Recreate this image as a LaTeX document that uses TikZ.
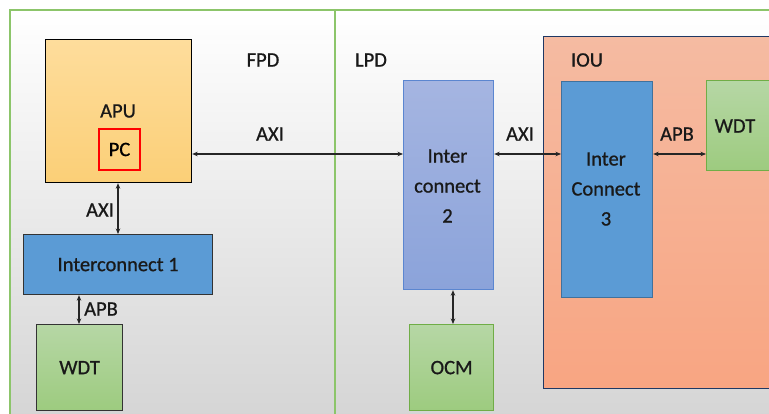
\documentclass[tikz,border=0pt]{standalone}
\usepackage{fontspec}
\setmainfont{Carlito}[FakeBold=0.8]
\usetikzlibrary{arrows.meta}
\definecolor{frameg}{HTML}{8CC56A}
\definecolor{apuT}{HTML}{FEDD9C}
\definecolor{apuB}{HTML}{FBCF77}
\definecolor{icblue}{HTML}{5B9BD5}
\definecolor{icborder}{HTML}{41719C}
\definecolor{ic2T}{HTML}{A5B5E1}
\definecolor{ic2B}{HTML}{8BA3DA}
\definecolor{ic2border}{HTML}{5B86D0}
\definecolor{grT}{HTML}{B6D7A5}
\definecolor{grB}{HTML}{9DCB7F}
\definecolor{grborder}{HTML}{70AD47}
\definecolor{iouT}{HTML}{F5BBA2}
\definecolor{iouB}{HTML}{F8A582}
\definecolor{iouborder}{HTML}{1F3864}
\begin{document}
\begin{tikzpicture}[x=1pt,y=-1pt,
  font=\fontsize{20.5}{24}\selectfont,
  box/.style={draw, line width=1.2pt, inner sep=0pt, anchor=north west, align=center},
  apubox/.style={box, draw=black, top color=apuT, bottom color=apuB},
  icbox/.style={box, draw=icborder, fill=icblue},
  ic2box/.style={box, draw=ic2border, top color=ic2T, bottom color=ic2B},
  grbox/.style={box, draw=grborder, top color=grT, bottom color=grB},
  lbl/.style={inner sep=0pt, text=black!90},
  link/.style={{Stealth[length=5.5pt,width=4.5pt]}-{Stealth[length=5.5pt,width=4.5pt]}, line width=1.2pt, black!85}
]
\useasboundingbox (0,0) rectangle (769,414);
\clip (0,0) rectangle (769,414);
\fill[white] (0,0) rectangle (769,414);
% background gradient inside frame
\shade[top color=white, bottom color=black!17] (10,10) rectangle (790,430);
\draw[frameg, line width=1.5pt] (10,440) -- (10,10) -- (790,10);
\draw[frameg, line width=1.2pt] (335,10) -- (335,440);
% IOU
\node[box, draw=iouborder, top color=iouT, bottom color=iouB, minimum width=260pt, minimum height=352pt] (iou) at (543,36) {};
\node[lbl] (ioul) at (587,60) {IOU};
\node[lbl] (fpd) at (263,60) {FPD};
\node[lbl] (lpd) at (371,60) {LPD};
% APU
\node[apubox, minimum width=146pt, minimum height=143pt] (apu) at (45,39) {};
\node[lbl] (apul) at (118,111) {APU};
\node[draw=red, line width=1.2pt, minimum width=41pt, minimum height=41pt, inner sep=0pt] (pc) at (119.5,149.5) {PC};
% Interconnect 1
\node[icbox, draw=black!80, minimum width=189pt, minimum height=60pt] (ic1) at (23,234) {};
\node[lbl] at (ic1.center) {Interconnect 1};
% WDT left
\node[grbox, draw=black!80, minimum width=86pt, minimum height=86pt] (wdt1) at (36,324) {};
\node[lbl] at (wdt1.center) {WDT};
% Interconnect 2
\node[ic2box, minimum width=90pt, minimum height=209pt] (ic2) at (403,80) {};
\node[lbl, align=center, font=\fontsize{20.5}{30}\selectfont] at (447.5,186) {Inter\\connect\\2};
% OCM
\node[grbox, minimum width=84pt, minimum height=86pt] (ocm) at (409,324) {};
\node[lbl] at (ocm.center) {OCM};
% Interconnect 3
\node[icbox, minimum width=91pt, minimum height=216pt] (ic3) at (561,81) {};
\node[lbl, align=center, font=\fontsize{20.5}{30}\selectfont] at (606,189) {Inter\\Connect\\3};
% WDT right
\node[grbox, minimum width=80pt, minimum height=90pt] (wdt2) at (706,80) {};
\node[lbl] at (735,126) {WDT};
% connectors
\draw[link] (apu.east |- 0,154) -- (ic2.west |- 0,154);
\node[lbl] at (270,134) {AXI};
\draw[link] (apu.south -| 118,0) -- (ic1.north -| 118,0);
\node[lbl] at (100,210) {AXI};
\draw[link] (ic1.south -| 79,0) -- (wdt1.north -| 79,0);
\node[lbl] at (101,309) {APB};
\draw[link] (ic2.east |- 0,154) -- (ic3.west |- 0,154);
\node[lbl] at (520,134) {AXI};
\draw[link] (ic3.east |- 0,154) -- (wdt2.west |- 0,154);
\node[lbl] at (677,134) {APB};
\draw[link] (ic2.south -| 453,0) -- (ocm.north -| 453,0);
\end{tikzpicture}
\end{document}
